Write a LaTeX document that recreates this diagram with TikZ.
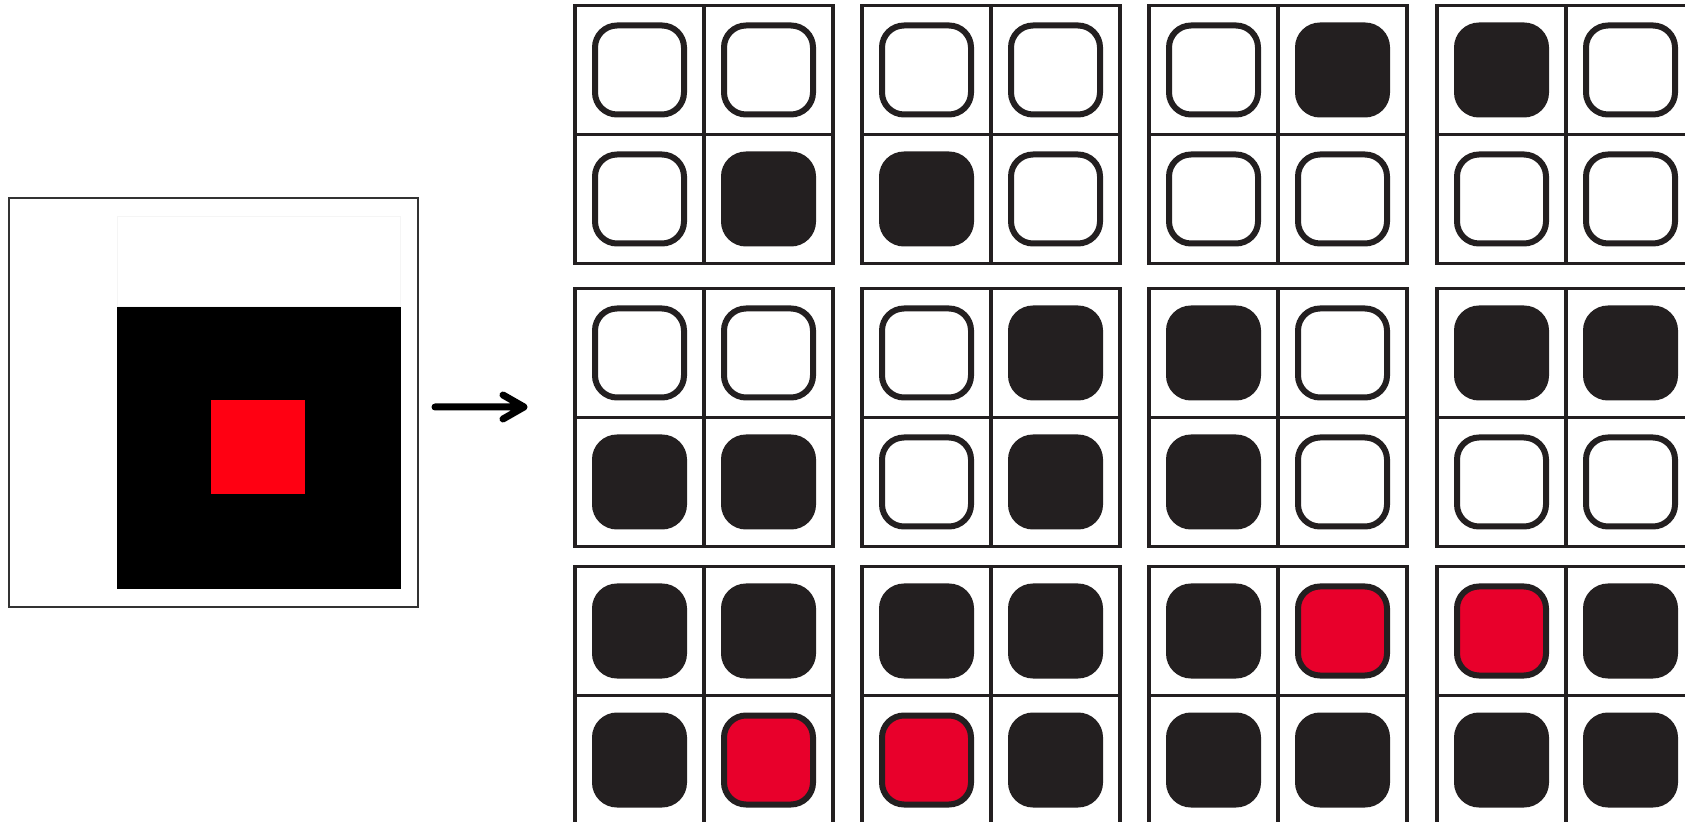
\documentclass[tikz,border=0pt]{standalone}
\usetikzlibrary{arrows.meta,positioning}
\definecolor{ink}{HTML}{231F20}
\definecolor{cellred}{HTML}{E8002B}
\definecolor{srcred}{HTML}{FF0012}
\colorlet{W}{white}
\colorlet{K}{ink}
\colorlet{R}{cellred}

\begin{document}
\begin{tikzpicture}[x=0.5pt, y=-0.5pt,
    frame/.style={draw=ink, line width=1.75pt},
    cell/.style={draw=ink, line width=3pt, rounded corners=11pt}]
  \useasboundingbox (0,0) rectangle (1685,822);
  \clip (0,0) rectangle (1685,822);
  % input patch
  \node[draw=black!80, line width=1pt, minimum width=204.75pt, minimum height=204.25pt, inner sep=0pt] (src) at (213.25,402.75) {};
  \draw[black!4, line width=0.5pt] (117,216.5) rectangle (400.5,307);
  \fill[black] (117,307) rectangle (400.5,589);
  \fill[srcred] (211,400) rectangle (305,494);
  \coordinate (arrend) at (524,407);
  \coordinate (arrstart) at ([xshift=8pt]src.east |- arrend);
  \draw[line width=3.5pt, line cap=round, line join=round] (arrstart) -- (arrend)
    ([shift={(-21,-12)}]arrend) -- (arrend) -- ([shift={(-21,12)}]arrend);
  % 2x2 patterns, cells TL TR BL BR
  \foreach \y/\x/\p in {
    5.5/575/{W,W,W,K}, 5.5/862/{W,W,K,W}, 5.5/1149/{W,K,W,W}, 5.5/1437/{K,W,W,W},
    288.5/575/{W,W,K,K}, 288.5/862/{W,K,W,K}, 288.5/1149/{K,W,K,W}, 288.5/1437/{K,K,W,W},
    566.5/575/{K,K,K,R}, 566.5/862/{K,K,R,K}, 566.5/1149/{K,R,K,K}, 566.5/1437/{R,K,K,K}}{
    \draw[frame] (\x,\y) rectangle ++(258,258);
    \draw[frame] (\x+129,\y) -- ++(0,258) (\x,\y+129) -- ++(258,0);
    \foreach \f [count=\k from 0] in \p {
      \pgfmathsetmacro\cx{\x+mod(\k,2)*129+20}
      \pgfmathsetmacro\cy{\y+int(\k/2)*129+20}
      \draw[cell, fill=\f] (\cx,\cy) rectangle ++(89,89);
    }
  }
\end{tikzpicture}
\end{document}
